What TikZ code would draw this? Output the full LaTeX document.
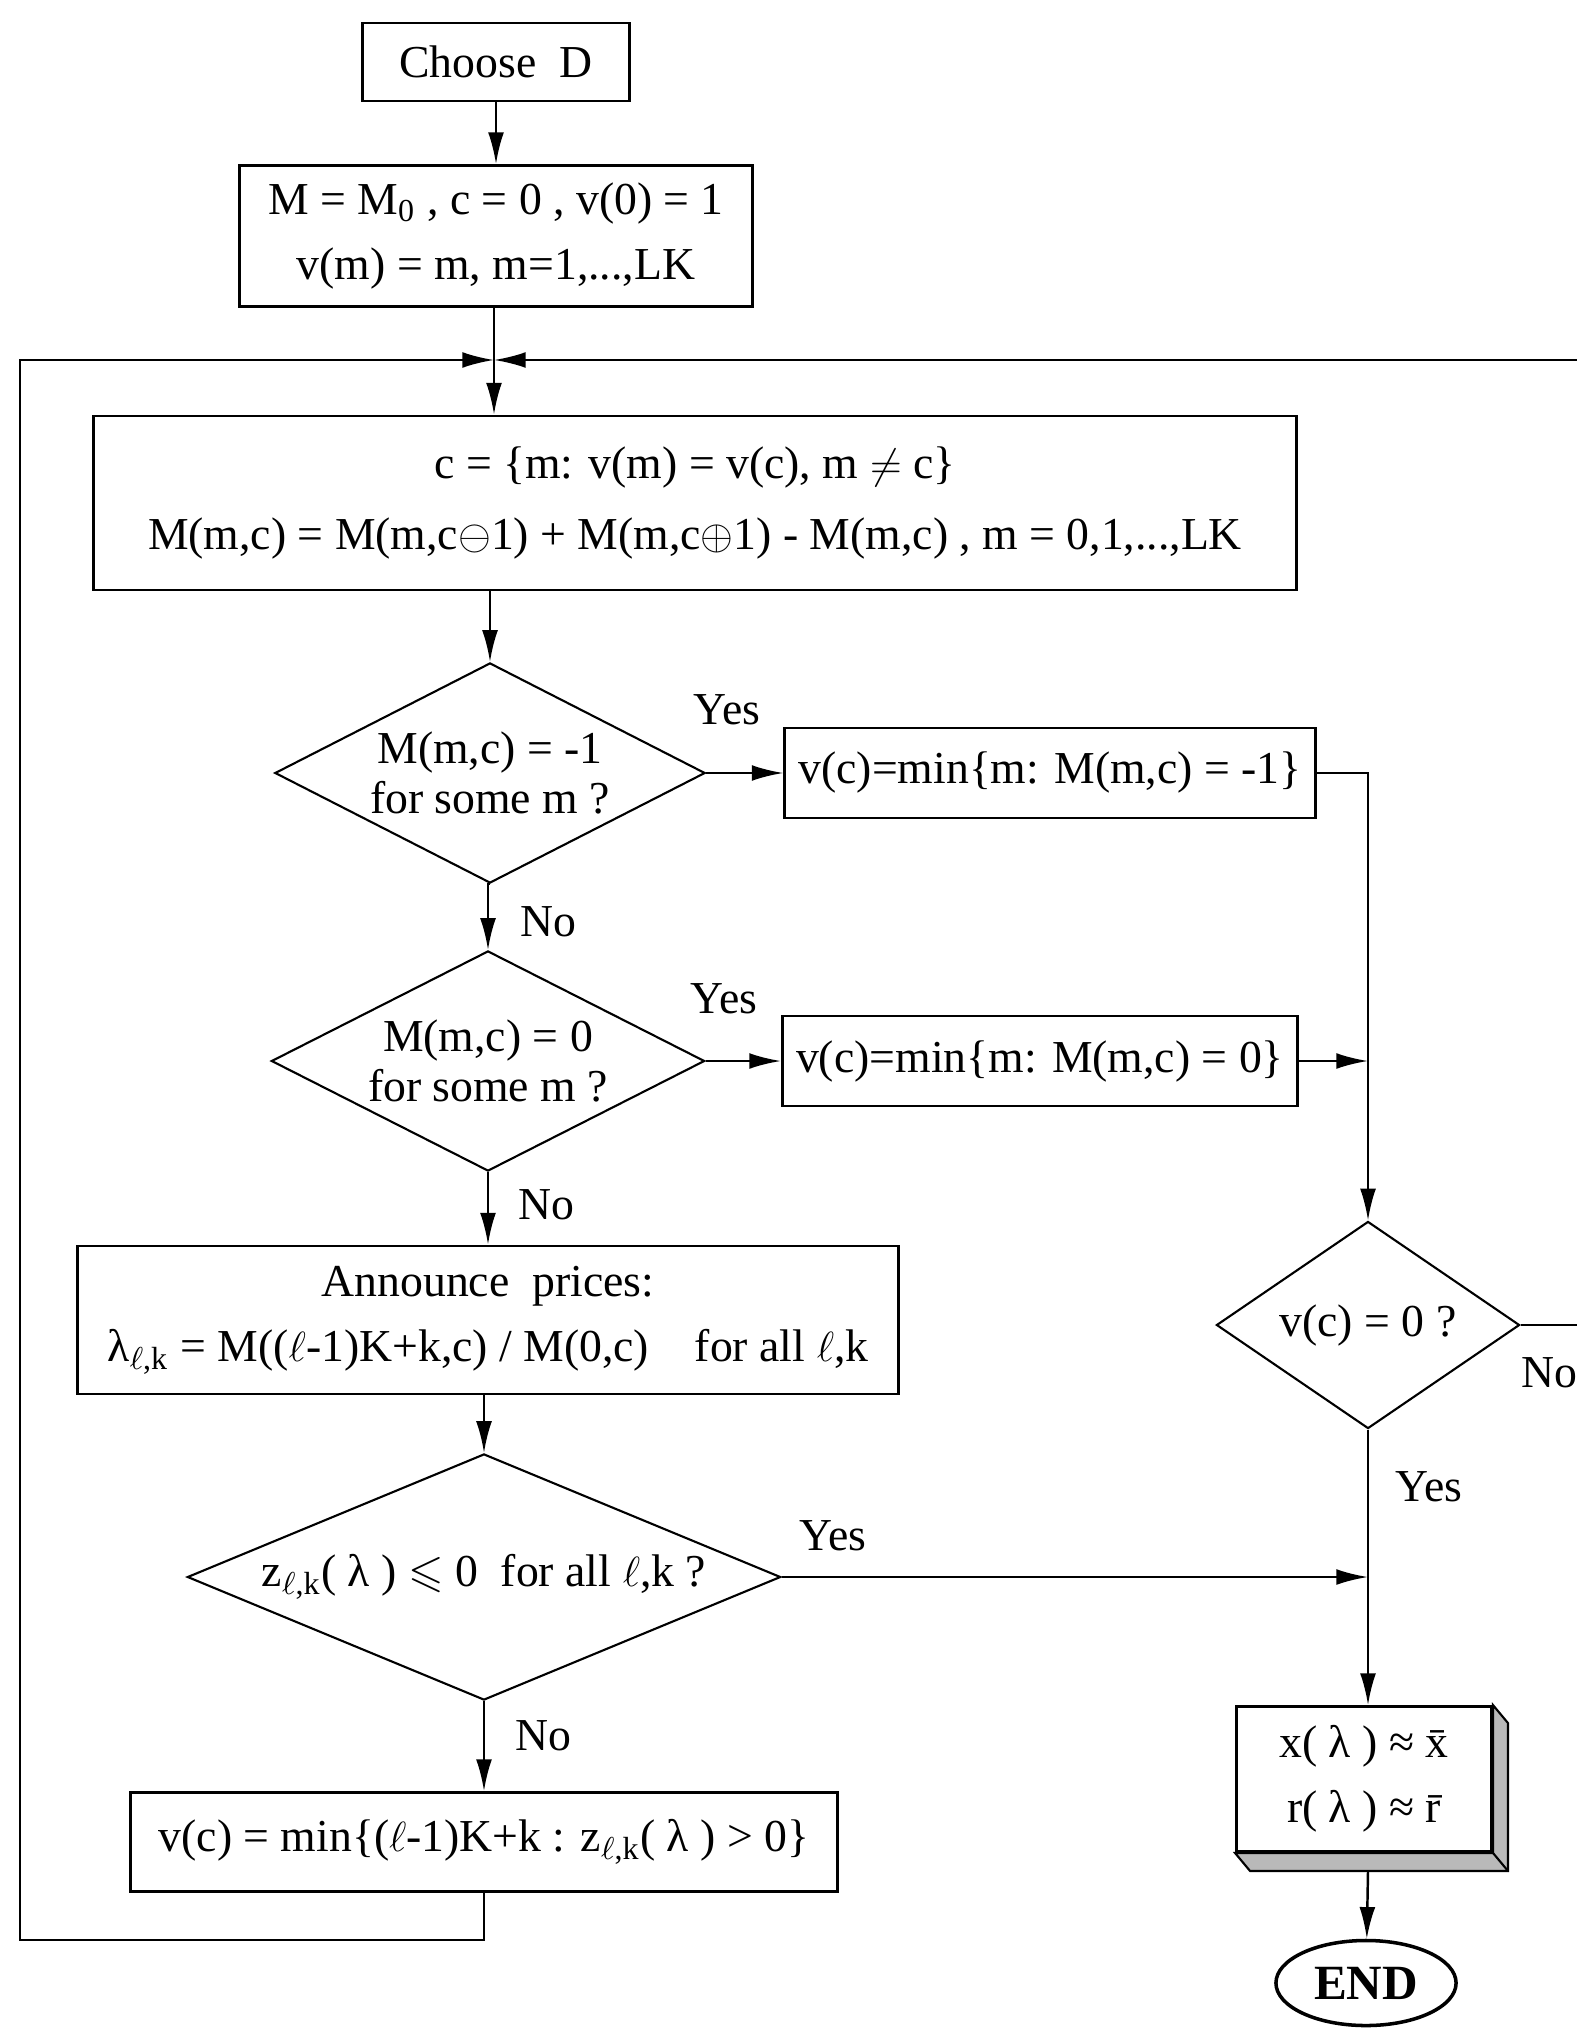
\documentclass[tikz,border=0pt]{standalone}
\usepackage{amssymb}
\usepackage{fontspec}
\setmainfont{Liberation Serif}
\usetikzlibrary{arrows.meta,positioning,calc,shapes.geometric}

\tikzset{
  box/.style={draw, line width=0.8pt, inner sep=2pt, align=center, font=\fontsize{13}{18.5}\selectfont},
  decision/.style={draw, diamond, aspect=2, line width=0.6pt, inner sep=0pt, align=center, font=\fontsize{13}{14}\selectfont},
  flow/.style={-{Latex[length=9pt,width=4.5pt]}, line width=0.7pt},
  wire/.style={line width=0.7pt},
  answer/.style={font=\fontsize{13}{14}\selectfont, inner sep=0pt},
}
\newcommand{\lk}{\textsubscript{$\ell$,k}}

\begin{document}
\begin{tikzpicture}[x=0.01cm,y=-0.01cm]
  \useasboundingbox (0,0) rectangle (1576,2028);

  % main column
  \node[box, minimum width=2.67cm, minimum height=0.78cm] (choose) at (496,62) {Choose\ \ D};
  \node[box, minimum width=5.12cm, minimum height=1.41cm] (init) at (496,236) {M = M\textsubscript{0} , c = 0 , v(0) = 1\\ v(m) = m, m=1,...,LK};
  \coordinate (join) at (494,360);
  \node[box, font=\fontsize{13}{20}\selectfont, minimum width=12.02cm, minimum height=1.74cm] (update) at (695,503) {c = \{m: v(m) = v(c), m $\neq$ c\}\\ M(m,c) = M(m,c$\ominus$1) + M(m,c$\oplus$1) - M(m,c) , m = 0,1,...,LK};
  \node[decision, minimum width=4.30cm, minimum height=2.20cm] (neg) at (490,773) {M(m,c) = -1\\ for some m ?};
  \node[box, minimum width=5.30cm, minimum height=0.90cm] (setneg) at (1050,773) {v(c)=min\{m: M(m,c) = -1\}};
  \node[decision, minimum width=4.33cm, minimum height=2.20cm] (zero) at (488,1061) {M(m,c) = 0\\ for some m ?};
  \node[box, minimum width=5.15cm, minimum height=0.90cm] (setzero) at (1040,1061) {v(c)=min\{m: M(m,c) = 0\}};
  \node[box, minimum width=8.20cm, minimum height=1.48cm] (prices) at (488,1320) {Announce\ \ prices:\\ λ\lk{} = M(($\ell$-1)K+k,c) / M(0,c)\quad for all $\ell$,k};
  \node[decision, aspect=2.4, minimum width=5.93cm, minimum height=2.46cm] (excess) at (484,1577) {z\lk( λ ) $\leqslant$ 0\ \ for all $\ell$,k ?};
  \node[box, minimum width=7.07cm, minimum height=0.99cm] (pick) at (484,1842) {v(c) = min\{($\ell$-1)K+k : z\lk( λ ) > 0\}};
  \coordinate (loopL) at (20,1940);

  % right column
  \node[decision, minimum width=3.03cm, minimum height=2.07cm] (done) at (1368,1325) {v(c) = 0 ?};
  \coordinate (loopR) at (1620,360);
  \node[box, fill=white, minimum width=2.55cm, minimum height=1.45cm] (result) at (1364,1779) {x( λ ) ≈ \=x\\ r( λ ) ≈ \=r};
  \filldraw[fill=gray!55, line width=0.6pt] (result.north east) -- ++(15,18) -- ($(result.south east)+(15,18)$)
    -- ($(result.south west)+(15,18)$) -- (result.south west) -- (result.south east) -- cycle;
  \draw[line width=0.6pt] (result.south east) -- ++(15,18);
  \coordinate (resultbase) at ($(result.south)+(4,18)$);
  \node[draw, ellipse, line width=1pt, minimum width=1.65cm, minimum height=0.85cm, font=\fontsize{14}{14}\selectfont\bfseries] (stop) at (1366,1983) {END};

  % labels
  \node[answer] (yes1) at (727,710) {Yes};
  \node[answer] (no1) at (548,922) {No};
  \node[answer] (yes2) at (724,999) {Yes};
  \node[answer] (no2) at (546,1205) {No};
  \node[answer] (yes3) at (833,1536) {Yes};
  \node[answer] (no3) at (543,1736) {No};
  \node[answer] (yes4) at (1429,1487) {Yes};
  \node[answer] (no4) at (1549,1373) {No};

  % connectors
  \draw[flow] (choose) -- (init);
  \draw[wire] (init.south -| join) -- (join);
  \draw[flow] (join) -- (join |- update.north);
  \draw[flow] (update.south -| neg) -- (neg);
  \draw[flow] (neg) -- (setneg);
  \draw[flow] (neg.south) -- (neg.south -| zero) -- (zero);
  \draw[flow] (zero) -- (setzero);
  \draw[flow] (zero) -- (prices);
  \draw[flow] (prices.south -| excess) -- (excess);
  \draw[flow] (excess) -- (pick);
  \draw[flow] (excess.east) -- (excess.east -| done);
  \draw[flow] (setneg.east) -| (done.north);
  \draw[flow] (setzero.east) -- (setzero.east -| done);
  \draw[flow] (done.south) -- (done.south |- result.north);
  \draw[flow] (resultbase) -- (stop);
  \draw[flow] (pick.south) |- (loopL) |- (join);
  \draw[flow] (done.east) -| (loopR) -- (join);
\end{tikzpicture}
\end{document}
